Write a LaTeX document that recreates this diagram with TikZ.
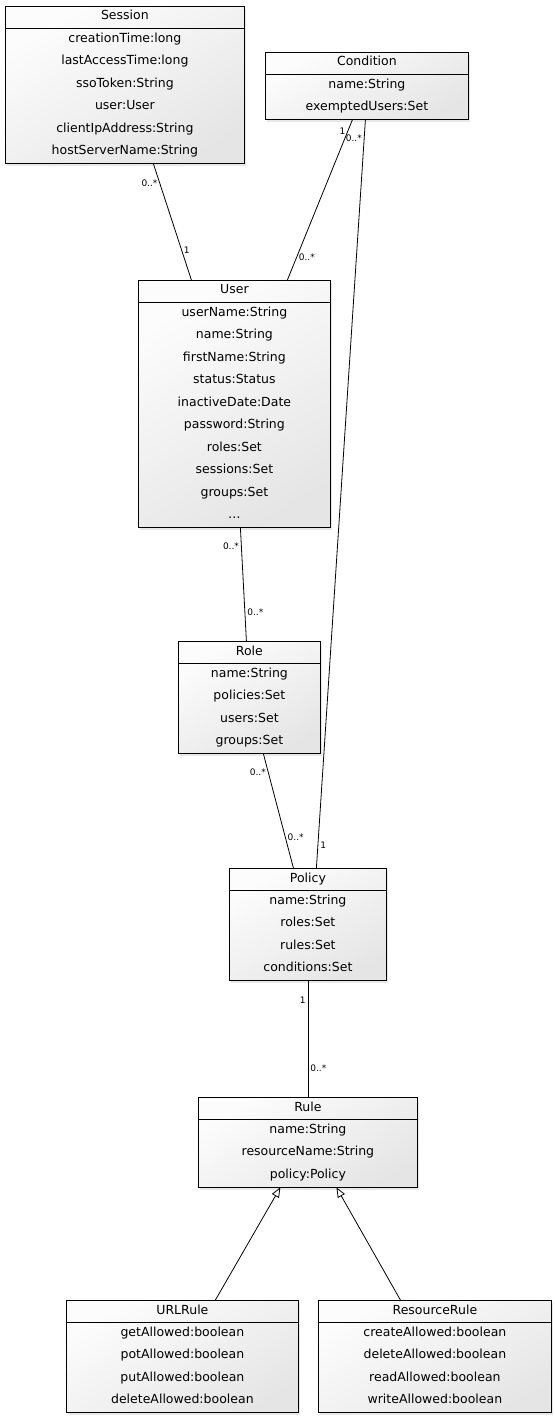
\documentclass[tikz,border=0pt]{standalone}
\usepackage{fontspec}
\setmainfont{DejaVu Sans}
\usetikzlibrary{calc, arrows.meta, shadows}

\begin{document}
\begin{tikzpicture}[x=1pt, y=-1pt,
        classbox/.style={draw, line width=0.8pt, anchor=north west, inner sep=0pt,
            top color=gray!2, bottom color=gray!20, shading angle=30,
            drop shadow={opacity=0.18, shadow xshift=2pt, shadow yshift=-3pt}},
        classtitle/.style={font=\fontsize{12.5}{14}\selectfont, inner sep=0pt,
            text height=9pt, text depth=3pt},
        attr/.style={font=\fontsize{12.5}{14}\selectfont, inner sep=0pt,
            text height=9pt, text depth=3pt},
        mult/.style={font=\fontsize{9}{10}\selectfont, inner sep=2pt},
        assoc/.style={line width=0.8pt},
        inherit/.style={line width=0.8pt, -{Triangle[open, length=10pt, width=8pt]}}]
        \useasboundingbox (0,0) rectangle (554,1420);

        % classes
        \node[classbox, minimum width=239, minimum height=157] (session) at (5, 6) {};
        \node[classtitle] (sessiontitle) at ($(session.north)+(0,11)$) {Session};
        \draw[line width=0.8pt] ($(session.north west)+(0,22)$) -- ($(session.north east)+(0,22)$);
        \foreach \a [count=\i] in {creationTime:long, lastAccessTime:long, ssoToken:String,
            user:User, clientIpAddress:String, hostServerName:String}
            \node[attr] at ($(session.north)+(0,10.75+22.5*\i)$) {\a};

        \node[classbox, minimum width=203, minimum height=67] (condition) at (265, 52) {};
        \node[classtitle] (conditiontitle) at ($(condition.north)+(0,11)$) {Condition};
        \draw[line width=0.8pt] ($(condition.north west)+(0,22)$) -- ($(condition.north east)+(0,22)$);
        \foreach \a [count=\i] in {name:String, exemptedUsers:Set}
            \node[attr] at ($(condition.north)+(0,10.75+22.5*\i)$) {\a};

        \node[classbox, minimum width=192, minimum height=247] (user) at (138, 280) {};
        \node[classtitle] (usertitle) at ($(user.north)+(0,11)$) {User};
        \draw[line width=0.8pt] ($(user.north west)+(0,22)$) -- ($(user.north east)+(0,22)$);
        \foreach \a [count=\i] in {userName:String, name:String, firstName:String, status:Status,
            inactiveDate:Date, password:String, roles:Set, sessions:Set, groups:Set, \ldots}
            \node[attr] at ($(user.north)+(0,10.75+22.5*\i)$) {\a};

        \node[classbox, minimum width=142, minimum height=112] (role) at (178, 641) {};
        \node[classtitle] (roletitle) at ($(role.north)+(0,11)$) {Role};
        \draw[line width=0.8pt] ($(role.north west)+(0,22)$) -- ($(role.north east)+(0,22)$);
        \foreach \a [count=\i] in {name:String, policies:Set, users:Set, groups:Set}
            \node[attr] at ($(role.north)+(0,10.75+22.5*\i)$) {\a};

        \node[classbox, minimum width=157, minimum height=112] (policy) at (229, 868) {};
        \node[classtitle] (policytitle) at ($(policy.north)+(0,11)$) {Policy};
        \draw[line width=0.8pt] ($(policy.north west)+(0,22)$) -- ($(policy.north east)+(0,22)$);
        \foreach \a [count=\i] in {name:String, roles:Set, rules:Set, conditions:Set}
            \node[attr] at ($(policy.north)+(0,10.75+22.5*\i)$) {\a};

        \node[classbox, minimum width=219, minimum height=89.5] (rule) at (198, 1097) {};
        \node[classtitle] (ruletitle) at ($(rule.north)+(0,11)$) {Rule};
        \draw[line width=0.8pt] ($(rule.north west)+(0,22)$) -- ($(rule.north east)+(0,22)$);
        \foreach \a [count=\i] in {name:String, resourceName:String, policy:Policy}
            \node[attr] at ($(rule.north)+(0,10.75+22.5*\i)$) {\a};

        \node[classbox, minimum width=232, minimum height=112] (urlrule) at (66, 1300) {};
        \node[classtitle] (urlruletitle) at ($(urlrule.north)+(0,11)$) {URLRule};
        \draw[line width=0.8pt] ($(urlrule.north west)+(0,22)$) -- ($(urlrule.north east)+(0,22)$);
        \foreach \a [count=\i] in {getAllowed:boolean, potAllowed:boolean, putAllowed:boolean,
            deleteAllowed:boolean}
            \node[attr] at ($(urlrule.north)+(0,10.75+22.5*\i)$) {\a};

        \node[classbox, minimum width=233, minimum height=112] (resrule) at (318, 1300) {};
        \node[classtitle] (resruletitle) at ($(resrule.north)+(0,11)$) {ResourceRule};
        \draw[line width=0.8pt] ($(resrule.north west)+(0,22)$) -- ($(resrule.north east)+(0,22)$);
        \foreach \a [count=\i] in {createAllowed:boolean, deleteAllowed:boolean, readAllowed:boolean,
            writeAllowed:boolean}
            \node[attr] at ($(resrule.north)+(0,10.75+22.5*\i)$) {\a};

        % associations
        \draw[assoc] ([xshift=28.5pt]session.south) -- ([xshift=-43pt]user.north)
            node[mult, pos=0.17, left] {0..*}
            node[mult, pos=0.74, right] {1};
        \draw[assoc] ([xshift=-14.5pt]condition.south) -- ([xshift=53pt]user.north)
            node[mult, pos=0.07, left] {1}
            node[mult, pos=0.86, right] {0..*};
        \draw[assoc] ([xshift=-1.5pt]condition.south) -- ([xshift=8.5pt]policy.north)
            node[mult, pos=0.025, left] {0..*}
            node[mult, pos=0.97, right] {1};
        \draw[assoc] ([xshift=6pt]user.south) -- ([xshift=-3pt]role.north)
            node[mult, pos=0.16, left] {0..*}
            node[mult, pos=0.75, right] {0..*};
        \draw[assoc] ([xshift=14pt]role.south) -- ([xshift=-14.5pt]policy.north)
            node[mult, pos=0.16, left] {0..*}
            node[mult, pos=0.73, right] {0..*};
        \draw[assoc] (policy.south) -- (rule.north)
            node[mult, pos=0.17, left] {1}
            node[mult, pos=0.75, right] {0..*};

        % generalisations
        \draw[inherit] ([xshift=33pt]urlrule.north) -- ([xshift=-27.5pt]rule.south);
        \draw[inherit] ([xshift=-34.5pt]resrule.north) -- ([xshift=28.5pt]rule.south);
    \end{tikzpicture}
\end{document}
